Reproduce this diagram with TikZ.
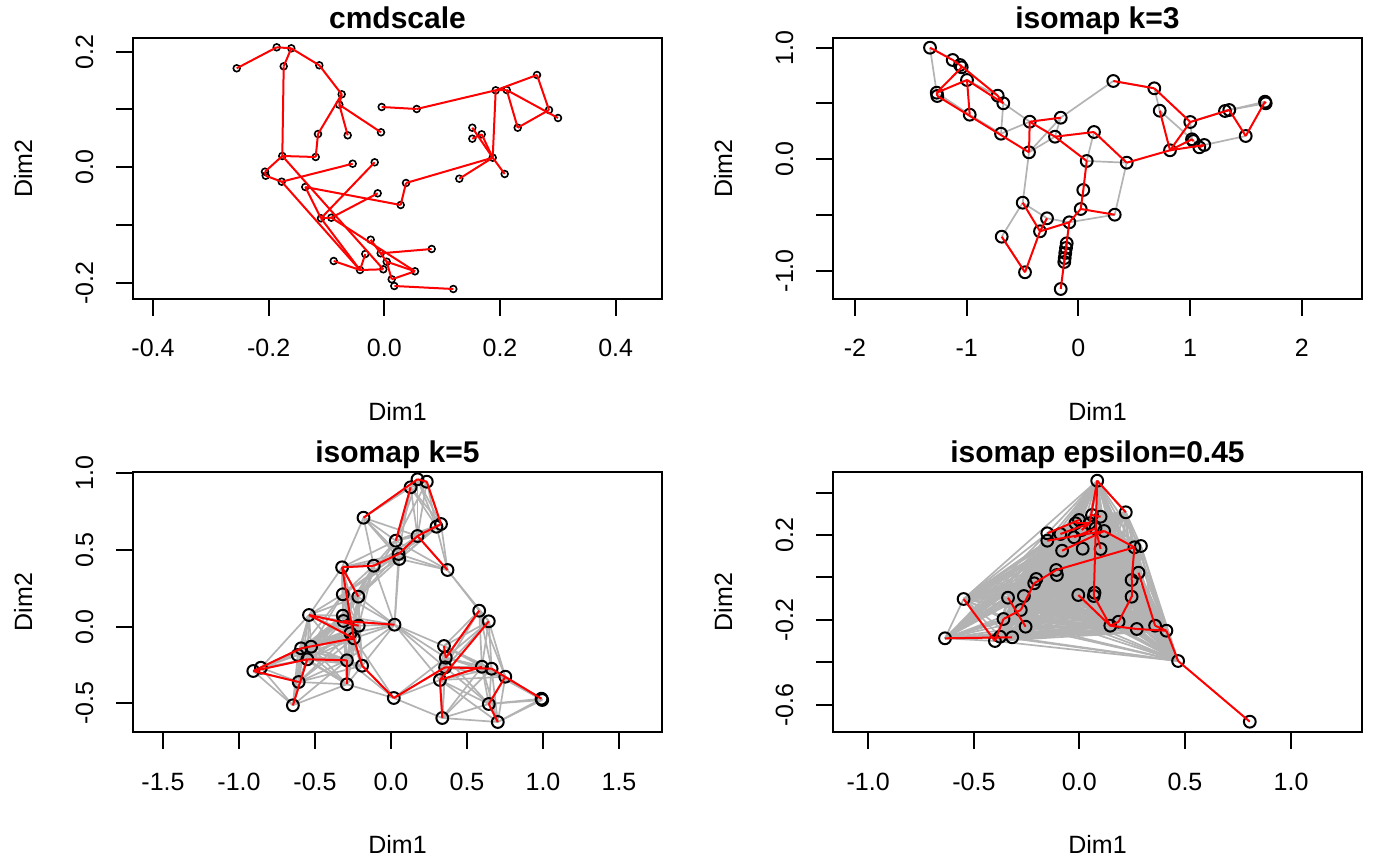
\documentclass[tikz,border=0pt]{standalone}
\usepackage{fontspec}
\setmainfont{Liberation Sans}
\usetikzlibrary{positioning}

\definecolor{edgegray}{RGB}{179,179,179}
\definecolor{mstred}{RGB}{255,0,0}

\tikzset{
  plotbox/.style={line width=2pt, black},
  obs/.style={line width=2pt, black},
  obssmall/.style={line width=1.6pt, black},
  mst/.style={line width=2pt, mstred},
  knn/.style={line width=1.7pt, edgegray},
  ticklab/.style={font=\fontsize{25}{30}\selectfont, inner sep=0pt, anchor=base},
  plottitle/.style={font=\bfseries\fontsize{30}{36}\selectfont, inner sep=0pt, anchor=base}
}

% point sets, in pixel units
\def\ptsA{1/236.7/68.3, 2/276.7/47.3, 3/291.3/48.3, 4/283.7/66.3, 5/319.3/65.3, 6/341.7/94.3, 7/339.3/104.7, 8/318/134, 9/347.7/135.3, 10/381/132.3, 11/381.7/107, 12/416.7/109, 13/495.7/90.3, 14/506.7/90, 15/537/75, 16/549/110, 17/558/118, 18/517.7/127.7, 19/472.3/127.7, 20/481.7/134.3, 21/472.3/138.7, 22/492.7/157.7, 23/504.7/174, 24/459.3/178.7, 25/406/183, 26/400.7/205, 27/282.3/156, 28/315.7/157, 29/265/171.7, 30/265.7/175.7, 31/281.7/181.7, 32/352.7/163.7, 33/374.7/162.3, 34/305.3/187, 35/377.7/193.3, 36/321/218.3, 37/331.3/217.7, 38/370.7/239.7, 39/365.3/254, 40/380.7/253.3, 41/386.7/261.7, 42/431.7/249, 43/333.7/261, 44/360/270, 45/383.3/269.3, 46/415/271.3, 47/391.7/279.3, 48/394.3/286, 49/453.3/289}

\def\ptsB{1/930/47.7, 2/952.7/60, 3/960/65, 4/961.7/67.3, 5/967/80, 6/936.7/92.7, 7/937.3/96, 8/997.7/95.7, 9/1003.3/103.3, 10/969.7/114.7, 11/1001/133.7, 12/1029.7/121.7, 13/1060.7/117.7, 14/1055/136.7, 15/1094/132, 16/1029/152.3, 17/1086.7/161, 18/1126.7/162.7, 19/1113.3/81, 20/1154.3/88.3, 21/1159.7/110.7, 22/1190.3/122, 23/1170/150.3, 24/1192/139.3, 25/1193.3/141, 26/1199.3/147.3, 27/1204.3/145, 28/1225/111, 29/1229.3/110, 30/1265/101.7, 31/1265.7/103.3, 32/1245.7/136, 33/1083.3/190, 34/1080.7/209, 35/1114.7/214.7, 36/1022.7/202.7, 37/1047/218.3, 38/1069.3/222.3, 39/1040/231.3, 40/1001.7/236.7, 41/1025/272.3, 42/1066.7/243.3, 43/1066/248, 44/1065.3/253, 45/1064.7/258, 46/1064.3/262, 47/1060.7/289}

\def\ptsC{1/417.5/479.3, 2/426.8/481.7, 3/410.6/487.3, 4/363.5/517.7, 5/395.8/540.7, 6/417.5/536, 7/436.5/526.7, 8/441/524, 9/398.6/554, 10/399.3/559, 11/373.8/565.7, 12/342.1/567.3, 13/447.5/570, 14/342.8/594.3, 15/358.3/596.7, 16/309/615, 17/342.8/615.7, 18/343.5/621, 19/358.7/625.7, 20/394.5/624.7, 21/350.4/633.3, 22/353.8/638.3, 23/301.1/648.3, 24/311.1/646.7, 25/297.7/655, 26/307.3/659.3, 27/346.9/660.3, 28/362.1/665.7, 29/253.3/671, 30/260.9/667.7, 31/298.7/682, 32/346.9/684.3, 33/292.9/705.3, 34/393.8/698, 35/479.2/610.7, 36/488.8/621.3, 37/444/646, 38/445.8/657.7, 39/445.1/667.3, 40/439.9/680, 41/481.9/666.7, 42/491.6/668.7, 43/505.3/676.7, 44/541.5/698.7, 45/542.2/700, 46/488.8/704, 47/497.8/722, 48/442.3/718}

\def\ptsD{1/1097.2/480.7, 2/1125.8/512.3, 3/1092/515, 4/1100.6/516.7, 5/1079/520, 6/1075.5/523.3, 7/1089.6/523.3, 8/1104.1/531, 9/1095.5/528.3, 10/1081.7/530, 11/1074.1/537.3, 12/1047.3/533.3, 13/1060.4/534, 14/1047.3/540.7, 15/1062.1/550.7, 16/1082.7/548.7, 17/1100.6/549, 18/1134.4/547.3, 19/1140.9/546, 20/1056.2/570, 21/1056.9/575, 22/1036.3/579, 23/1034.2/583.3, 24/1138.5/572.7, 25/1131.6/580, 26/1008/597.7, 27/963.6/599, 28/1023.9/596, 29/1078.3/595, 30/1094.5/592.7, 31/1093.8/596, 32/1131.6/596.7, 33/1020.8/610, 34/1003.5/619, 35/1025.6/626.7, 36/1110.3/625.7, 37/1118.6/621.7, 38/1136.8/629, 39/1155.1/625.7, 40/1166.4/630.7, 41/945/638.3, 42/994.9/641, 43/1000.1/636.7, 44/1012.2/637.3, 45/1178.1/661, 46/1249.8/721.7}

\begin{document}
\begin{tikzpicture}[x=1pt, y=-1pt]
\useasboundingbox (0,0) rectangle (1400,866);

% cmdscale
\draw[plotbox] (133,38) rectangle (662,299);
\foreach \x/\t [count=\k] in {153/-0.4, 268.7/-0.2, 384.3/0.0, 500/0.2, 615.7/0.4} {
  \draw[plotbox] (\x,299) -- (\x,316);
  \node[ticklab] (xa\k) at (\x,357) {\t};
}
\foreach \y in {52,109.3,167.3,225.3,283.3}
  \draw[plotbox] (133,\y) -- (116,\y);
\foreach \y/\t [count=\k] in {52/0.2, 167.3/0.0, 283.3/-0.2}
  \node[ticklab, rotate=90] (ya\k) at (93,\y) {\t};
\node[plottitle] (ta) at (397.5,29) {cmdscale};
\node[ticklab] (dxa) at (397.5,420) {Dim1};
\node[ticklab, rotate=90] (dya) at (32,168.5) {Dim2};

\foreach \i/\x/\y in \ptsA {
  \coordinate (A\i) at (\x,\y);
  \draw[obssmall] (A\i) circle[radius=3.4pt];
}
\foreach \a/\b in {1/2, 2/3, 3/4, 3/5, 4/27, 5/6, 6/7, 6/8, 7/9, 7/10, 8/28, 27/28, 27/29, 29/30, 30/31, 31/32, 31/44, 27/45, 34/26, 34/36, 36/33, 36/37, 37/35, 36/44, 37/46, 38/41, 39/44, 40/42, 43/44, 44/45, 41/46, 47/46, 48/49, 41/47, 11/12, 12/13, 13/14, 13/15, 15/16, 14/17, 14/18, 18/16, 13/22, 19/22, 20/22, 21/20, 23/22, 24/22, 25/22, 25/26}
  \draw[mst] (A\a) -- (A\b);

% isomap k=3
\draw[plotbox] (833,38) rectangle (1362,299);
\foreach \x/\t [count=\k] in {855/-2, 966.7/-1, 1078.3/0, 1190/1, 1301.7/2} {
  \draw[plotbox] (\x,299) -- (\x,316);
  \node[ticklab] (xb\k) at (\x,357) {\t};
}
\foreach \y in {47.7,103.3,159,215,270.7}
  \draw[plotbox] (833,\y) -- (816,\y);
\foreach \y/\t [count=\k] in {47.7/1.0, 159/0.0, 270.7/-1.0}
  \node[ticklab, rotate=90] (yb\k) at (793,\y) {\t};
\node[plottitle] (tb) at (1097.5,29) {isomap k=3};
\node[ticklab] (dxb) at (1097.5,420) {Dim1};
\node[ticklab, rotate=90] (dyb) at (732,168.5) {Dim2};

\foreach \i/\x/\y in \ptsB
  \coordinate (B\i) at (\x,\y);
\foreach \a/\b in {1/6, 6/10, 7/10, 5/8, 9/11, 9/12, 11/12, 10/11, 13/14, 13/19, 14/16, 13/16, 16/36, 36/40, 36/37, 37/38, 38/35, 35/18, 17/18, 15/17, 19/20, 20/21, 21/24, 22/24, 24/26, 25/27, 27/32, 28/30, 29/31, 33/34, 38/42, 39/37, 40/41, 22/28}
  \draw[knn] (B\a) -- (B\b);
\foreach \i in {1,...,47}
  \draw[obs] (B\i) circle[radius=5.9pt];
\foreach \a/\b in {1/2, 2/3, 3/8, 8/9, 3/4, 4/6, 6/7, 6/5, 5/9, 5/10, 7/16, 16/12, 12/13, 12/14, 14/17, 14/15, 15/18, 18/23, 23/27, 23/24, 24/25, 26/27, 23/22, 22/20, 20/19, 23/21, 22/29, 28/29, 29/32, 32/30, 30/31, 17/33, 33/34, 34/35, 34/38, 38/39, 38/47, 36/39, 37/39, 39/41, 40/41, 42/43, 43/44, 44/45, 45/46}
  \draw[mst] (B\a) -- (B\b);

% isomap k=5
\draw[plotbox] (133,472) rectangle (662,732);
\foreach \x/\t [count=\k] in {163/-1.5, 239/-1.0, 315/-0.5, 391/0.0, 467/0.5, 543/1.0, 619/1.5} {
  \draw[plotbox] (\x,732) -- (\x,749);
  \node[ticklab] (xc\k) at (\x,790) {\t};
}
\foreach \y/\t [count=\k] in {473.3/1.0, 550/0.5, 626.7/0.0, 703.3/-0.5} {
  \draw[plotbox] (133,\y) -- (116,\y);
  \node[ticklab, rotate=90] (yc\k) at (93,\y) {\t};
}
\node[plottitle] (tc) at (397.5,462) {isomap k=5};
\node[ticklab] (dxc) at (397.5,853) {Dim1};
\node[ticklab, rotate=90] (dyc) at (32,602) {Dim2};

\foreach \i/\x/\y in \ptsC
  \coordinate (C\i) at (\x,\y);
\foreach \i/\x/\y in \ptsC {
  \foreach \j/\u/\v in \ptsC {
    \ifnum\j>\i
      \pgfmathparse{int(veclen(\u-\x,\v-\y)<72)}
      \ifnum\pgfmathresult=1 \draw[knn] (C\i) -- (C\j); \fi
    \fi
  }
}
\foreach \i in {1,...,48}
  \draw[obs] (C\i) circle[radius=5.9pt];
\foreach \a/\b in {4/1, 5/3, 1/2, 2/8, 8/6, 6/13, 6/9, 9/11, 11/12, 12/15, 12/22, 22/28, 16/19, 16/22, 18/20, 23/22, 29/23, 29/26, 29/31, 26/27, 27/32, 26/33, 28/34, 34/39, 37/38, 35/38, 36/40, 39/42, 40/41, 40/48, 42/44, 43/46, 46/47}
  \draw[mst] (C\a) -- (C\b);

% isomap epsilon=0.45
\draw[plotbox] (833,472) rectangle (1362,732);
\foreach \x/\t [count=\k] in {868.2/-1.0, 973.9/-0.5, 1079.3/0.0, 1185/0.5, 1291.1/1.0} {
  \draw[plotbox] (\x,732) -- (\x,749);
  \node[ticklab] (xd\k) at (\x,790) {\t};
}
\foreach \y in {492.7,535,577.3,620,662.3,705}
  \draw[plotbox] (833,\y) -- (816,\y);
\foreach \y/\t [count=\k] in {535/0.2, 620/-0.2, 705/-0.6}
  \node[ticklab, rotate=90] (yd\k) at (793,\y) {\t};
\node[plottitle] (td) at (1097.5,462) {isomap epsilon=0.45};
\node[ticklab] (dxd) at (1097.5,853) {Dim1};
\node[ticklab, rotate=90] (dyd) at (732,602) {Dim2};

\foreach \i/\x/\y in \ptsD
  \coordinate (D\i) at (\x,\y);
\foreach \i/\x/\y in \ptsD {
  \foreach \j/\u/\v in \ptsD {
    \ifnum\j>\i \ifnum\j<46
      \pgfmathparse{int(veclen(\u-\x,\v-\y)<200)}
      \ifnum\pgfmathresult=1 \draw[knn] (D\i) -- (D\j); \fi
    \fi \fi
  }
}
\foreach \i in {1,...,46}
  \draw[obs] (D\i) circle[radius=5.9pt];
\foreach \a/\b in {1/2, 1/31, 1/7, 31/36, 27/42, 41/44, 42/34, 34/33, 33/23, 23/20, 20/18, 26/35, 14/8, 12/5, 15/8, 13/7, 8/18, 17/9, 3/4, 6/7, 10/7, 11/9, 18/25, 25/32, 32/37, 37/36, 29/36, 36/38, 38/40, 24/39, 39/40, 40/45, 45/46}
  \draw[mst] (D\a) -- (D\b);
\end{tikzpicture}
\end{document}
